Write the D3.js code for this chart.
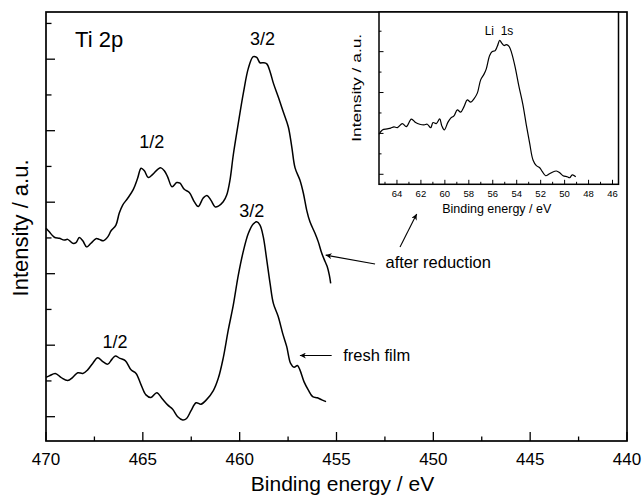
<!DOCTYPE html>
<html>
<head>
<meta charset="utf-8">
<script src="https://cdn.jsdelivr.net/npm/d3@7"></script>
<style>
  body { margin: 0; background: #fff; }
  text { font-family: "Liberation Sans", Arial, sans-serif; fill: #000; }
</style>
</head>
<body>
<div id="chart"></div>
<script>
// Ti 2p spectra, binding energy (eV) and intensity (a.u.)
var reducedEnergy = [470.00, 469.83, 469.57, 469.31, 469.06, 468.88, 468.62, 468.45, 468.28, 468.10,
    467.90, 467.68, 467.42, 467.25, 467.04, 466.81, 466.64, 466.39, 466.22, 466.04,
    465.78, 465.49, 465.27, 465.09, 464.92, 464.72, 464.49, 464.23, 464.06, 463.89,
    463.72, 463.49, 463.25, 463.08, 462.86, 462.60, 462.34, 462.14, 461.88, 461.69,
    461.48, 461.27, 461.10, 460.85, 460.67, 460.50, 460.33, 460.07, 459.81, 459.55,
    459.30, 459.12, 458.95, 458.78, 458.60, 458.43, 458.26, 458.01, 457.75, 457.49,
    457.31, 457.14, 456.89, 456.71, 456.54, 456.37, 456.11, 455.94, 455.76, 455.59,
    455.48, 455.37, 455.30];
var reducedIntensity = [5.27, 5.17, 5.02, 4.99, 4.94, 4.96, 4.85, 4.87, 5.01, 4.92,
    4.75, 4.85, 4.98, 4.96, 4.92, 5.03, 5.20, 5.36, 5.69, 5.92,
    6.11, 6.36, 6.67, 6.95, 6.88, 6.69, 6.78, 6.92, 6.96, 6.88,
    6.71, 6.43, 6.55, 6.53, 6.36, 6.27, 6.01, 5.88, 6.12, 6.19,
    6.05, 5.87, 5.89, 6.01, 6.20, 6.62, 7.32, 8.21, 9.05, 9.75,
    10.07, 10.05, 9.90, 9.90, 9.87, 9.65, 9.33, 8.95, 8.53, 8.11,
    7.55, 6.96, 6.62, 6.25, 5.78, 5.45, 5.13, 4.89, 4.57, 4.34,
    4.20, 3.96, 3.73];

var freshEnergy = [470.00, 469.83, 469.52, 469.23, 468.88, 468.62, 468.36, 468.10, 467.85, 467.59,
    467.33, 467.07, 466.81, 466.59, 466.42, 466.18, 465.91, 465.61, 465.35, 465.09,
    464.84, 464.58, 464.28, 464.01, 463.72, 463.46, 463.20, 462.94, 462.74, 462.51,
    462.25, 462.00, 461.72, 461.36, 461.10, 460.85, 460.59, 460.33, 460.07, 459.81,
    459.55, 459.30, 459.12, 458.95, 458.78, 458.60, 458.43, 458.26, 458.01, 457.78,
    457.57, 457.37, 457.19, 457.02, 456.89, 456.68, 456.46, 456.23, 455.99, 455.76,
    455.54];
var freshIntensity = [1.10, 1.14, 1.21, 1.10, 1.01, 1.10, 1.23, 1.21, 1.31, 1.49,
    1.65, 1.54, 1.47, 1.61, 1.70, 1.63, 1.57, 1.31, 1.21, 0.89,
    0.61, 0.54, 0.67, 0.51, 0.33, 0.21, 0.00, -0.09, -0.05, 0.17,
    0.39, 0.35, 0.47, 0.73, 1.08, 1.64, 2.42, 3.12, 3.96, 4.63,
    5.13, 5.39, 5.45, 5.36, 5.03, 4.38, 3.73, 3.17, 2.80, 2.33,
    1.96, 1.49, 1.38, 1.43, 1.31, 0.98, 0.75, 0.56, 0.53, 0.47,
    0.42];

// Li 1s inset
var liEnergy = [65.50, 65.22, 64.81, 64.52, 64.25, 63.97, 63.55, 63.22, 62.80, 62.44,
    62.10, 61.74, 61.47, 61.18, 60.99, 60.72, 60.43, 60.26, 60.05, 59.74,
    59.51, 59.24, 58.96, 58.68, 58.40, 58.13, 57.84, 57.57, 57.29, 57.01,
    56.73, 56.54, 56.26, 56.04, 55.81, 55.62, 55.42, 55.25, 55.06, 54.87,
    54.64, 54.42, 54.14, 53.81, 53.48, 53.20, 52.92, 52.64, 52.36, 52.08,
    51.86, 51.58, 51.30, 51.03, 50.69, 50.41, 50.13, 49.78, 49.58, 49.36,
    49.07];
var liIntensity = [1.96, 2.17, 2.22, 2.26, 2.32, 2.28, 2.48, 2.33, 2.70, 2.53,
    2.45, 2.42, 2.45, 2.28, 2.53, 2.48, 2.71, 2.38, 2.17, 2.55,
    2.75, 2.86, 3.15, 3.04, 3.31, 3.64, 3.53, 3.69, 3.97, 4.62,
    4.90, 5.16, 5.81, 6.01, 6.04, 6.26, 6.55, 6.42, 6.30, 6.34,
    6.26, 5.93, 5.27, 4.29, 3.40, 2.42, 1.52, 0.70, 0.42, 0.32,
    0.13, -0.07, 0.01, 0.10, 0.16, 0.08, -0.07, -0.12, -0.17, -0.03,
    -0.12];

var mainXTicks = [470, 465, 460, 455, 450, 445, 440];
var insetXTicks = [64, 62, 60, 58, 56, 54, 52, 50, 48, 46];

var W = 644, H = 496;
var margin = { top: 12, right: 17, bottom: 55, left: 46 },
    width = W - margin.left - margin.right,
    height = H - margin.top - margin.bottom;

var svg = d3.select("#chart")
    .append("svg")
    .attr("width", W)
    .attr("height", H);

var g = svg.append("g")
    .attr("transform", "translate(" + margin.left + "," + margin.top + ")");

var x = d3.scaleLinear().domain([470, 440]).range([0, width]);
var y = d3.scaleLinear().domain([-0.68, 11.32]).range([height, 0]);

function zip(a, b) {
    return a.map(function (v, i) { return [v, b[i]]; });
}

// ticks, pointing inward
var xMinor = d3.range(470, 439, -2.5);
g.selectAll(".xtick")
    .data(xMinor)
    .enter()
    .append("line")
    .attr("x1", function (d) { return x(d); })
    .attr("x2", function (d) { return x(d); })
    .attr("y1", height)
    .attr("y2", function (d) { return height - (d % 5 === 0 ? 9 : 4.5); })
    .attr("stroke", "#000")
    .attr("stroke-width", 1.3);

g.selectAll(".xlab")
    .data(mainXTicks)
    .enter()
    .append("text")
    .attr("x", function (d) { return x(d); })
    .attr("y", height + 24)
    .attr("text-anchor", "middle")
    .style("font-size", "17px")
    .text(function (d) { return d; });

g.selectAll(".ytick")
    .data(d3.range(0, 12))
    .enter()
    .append("line")
    .attr("x1", 0)
    .attr("x2", function (d) { return d % 2 === 0 ? 9 : 5.5; })
    .attr("y1", function (d) { return y(d); })
    .attr("y2", function (d) { return y(d); })
    .attr("stroke", "#000")
    .attr("stroke-width", 1.3);

var line = d3.line()
    .curve(d3.curveCatmullRom)
    .x(function (d) { return x(d[0]); })
    .y(function (d) { return y(d[1]); });

g.append("path")
    .datum(zip(reducedEnergy, reducedIntensity))
    .attr("fill", "none")
    .attr("stroke", "#000")
    .attr("stroke-width", 1.5)
    .attr("d", line);

g.append("path")
    .datum(zip(freshEnergy, freshIntensity))
    .attr("fill", "none")
    .attr("stroke", "#000")
    .attr("stroke-width", 1.5)
    .attr("d", line);

// frame
g.append("rect")
    .attr("width", width)
    .attr("height", height)
    .attr("fill", "none")
    .attr("stroke", "#000")
    .attr("stroke-width", 1.7);

// labels
var labels = [
    { t: "Ti 2p", e: 468.50, v: 10.34, a: "start", s: 22 },
    { t: "3/2", e: 458.82, v: 10.40, a: "middle", s: 18 },
    { t: "1/2", e: 464.54, v: 7.51, a: "middle", s: 18 },
    { t: "3/2", e: 459.38, v: 5.58, a: "middle", s: 18 },
    { t: "1/2", e: 466.44, v: 1.91, a: "middle", s: 18 },
    { t: "after reduction", e: 452.47, v: 4.15, a: "start", s: 16.5 },
    { t: "fresh film", e: 454.65, v: 1.56, a: "start", s: 16.5 }
];
g.selectAll(".lab")
    .data(labels)
    .enter()
    .append("text")
    .attr("x", function (d) { return x(d.e); })
    .attr("y", function (d) { return y(d.v); })
    .attr("text-anchor", function (d) { return d.a; })
    .style("font-size", function (d) { return d.s + "px"; })
    .text(function (d) { return d.t; });

svg.append("defs").append("marker")
    .attr("id", "head")
    .attr("viewBox", "0 0 10 10")
    .attr("refX", 10)
    .attr("refY", 5)
    .attr("markerWidth", 11)
    .attr("markerHeight", 6)
    .attr("markerUnits", "userSpaceOnUse")
    .attr("orient", "auto")
    .append("path")
    .attr("d", "M0,0 L10,5 L0,10 L3,5 Z")
    .attr("fill", "#000");

var arrows = [
    { e1: 453.01, v1: 4.27, e2: 455.56, v2: 4.52 },
    { e1: 451.72, v1: 4.75, e2: 450.86, v2: 5.67 },
    { e1: 455.25, v1: 1.71, e2: 456.89, v2: 1.71 }
];
g.selectAll(".arrow")
    .data(arrows)
    .enter()
    .append("line")
    .attr("x1", function (d) { return x(d.e1); })
    .attr("y1", function (d) { return y(d.v1); })
    .attr("x2", function (d) { return x(d.e2); })
    .attr("y2", function (d) { return y(d.v2); })
    .attr("stroke", "#000")
    .attr("stroke-width", 1.1)
    .attr("marker-end", "url(#head)");

// axis titles
svg.append("text")
    .attr("x", margin.left + x(455) + 6)
    .attr("y", 491)
    .attr("text-anchor", "middle")
    .style("font-size", "21px")
    .text("Binding energy / eV");

svg.append("text")
    .attr("transform", "translate(28," + (margin.top + y(5.28)) + ") rotate(-90)")
    .attr("text-anchor", "middle")
    .style("font-size", "22px")
    .text("Intensity / a.u.");

// inset
var inset = { left: 379, top: 12, width: 239.5, height: 172.3 };
var ig = svg.append("g")
    .attr("transform", "translate(" + inset.left + "," + inset.top + ")");

var ix = d3.scaleLinear().domain([65.5, 45.5]).range([0, inset.width]);
var iy = d3.scaleLinear().domain([-0.49, 7.94]).range([inset.height, 0]);

ig.append("rect")
    .attr("width", inset.width)
    .attr("height", inset.height)
    .attr("fill", "#fff");

ig.selectAll(".ixt")
    .data(d3.range(65, 45, -1))
    .enter()
    .append("line")
    .attr("x1", function (d) { return ix(d); })
    .attr("x2", function (d) { return ix(d); })
    .attr("y1", inset.height)
    .attr("y2", function (d) { return inset.height - (d % 2 === 0 ? 4.5 : 2.5); })
    .attr("stroke", "#000")
    .attr("stroke-width", 1);

ig.selectAll(".ixl")
    .data(insetXTicks)
    .enter()
    .append("text")
    .attr("x", function (d) { return ix(d); })
    .attr("y", inset.height + 12.5)
    .attr("text-anchor", "middle")
    .style("font-size", "9.5px")
    .text(function (d) { return d; });

ig.selectAll(".iyt")
    .data(d3.range(0, 8))
    .enter()
    .append("line")
    .attr("x1", 0)
    .attr("x2", function (d) { return d % 2 === 0 ? 4.5 : 2.5; })
    .attr("y1", function (d) { return iy(d); })
    .attr("y2", function (d) { return iy(d); })
    .attr("stroke", "#000")
    .attr("stroke-width", 1);

var iline = d3.line()
    .curve(d3.curveCatmullRom)
    .x(function (d) { return ix(d[0]); })
    .y(function (d) { return iy(d[1]); });

ig.append("path")
    .datum(zip(liEnergy, liIntensity))
    .attr("fill", "none")
    .attr("stroke", "#000")
    .attr("stroke-width", 1.2)
    .attr("d", iline);

ig.append("rect")
    .attr("width", inset.width)
    .attr("height", inset.height)
    .attr("fill", "none")
    .attr("stroke", "#000")
    .attr("stroke-width", 1.5);

ig.append("text")
    .attr("x", ix(55.48))
    .attr("y", iy(6.83))
    .attr("text-anchor", "middle")
    .style("font-size", "12px")
    .style("white-space", "pre")
    .attr("xml:space", "preserve")
    .text("Li  1s");

ig.append("text")
    .attr("x", ix(55.5) - 2)
    .attr("y", inset.height + 29)
    .attr("text-anchor", "middle")
    .style("font-size", "12.5px")
    .text("Binding energy / eV");

// the inset's y title is drawn stretched in the original
ig.append("text")
    .attr("transform", "translate(-18," + iy(4.23) + ") rotate(-90)")
    .attr("text-anchor", "middle")
    .attr("textLength", 108)
    .attr("lengthAdjust", "spacingAndGlyphs")
    .style("font-size", "13px")
    .text("Intensity / a.u.");
</script>
</body>
</html>
